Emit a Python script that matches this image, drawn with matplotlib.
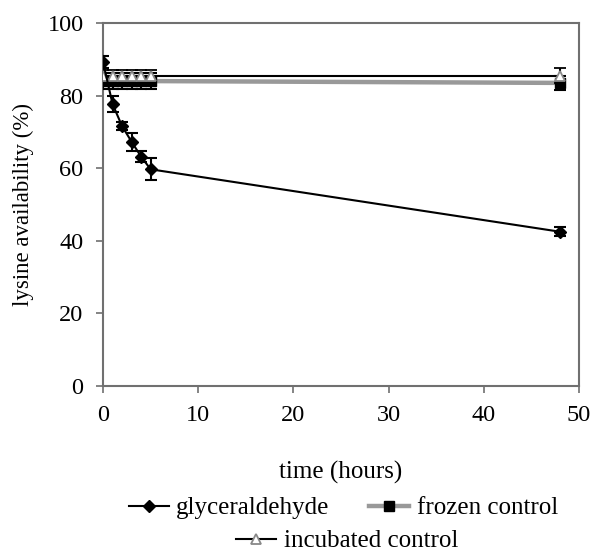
import matplotlib
matplotlib.use("Agg")
import matplotlib.pyplot as plt
from matplotlib.lines import Line2D

plt.rcParams['font.family'] = ['Liberation Serif', 'DejaVu Serif']

time_h = [0, 1, 2, 3, 4, 5, 48]
glyc = [89.3, 77.7, 71.6, 67.3, 63.2, 59.7, 42.5]
glyc_err = [1.7, 2.3, 1.0, 2.5, 1.5, 3.0, 1.2]
frozen = [84.0, 84.0, 84.0, 84.0, 84.0, 84.0, 83.5]
frozen_err = [2.3, 2.3, 2.3, 2.3, 2.3, 2.3, 2.0]
incub = [85.5, 85.5, 85.5, 85.5, 85.5, 85.5, 85.5]
incub_err = [1.5, 1.5, 1.5, 1.5, 1.5, 1.5, 2.0]

x_ticks = [0, 10, 20, 30, 40, 50]
y_ticks = [0, 20, 40, 60, 80, 100]
labels = ['glyceraldehyde', 'frozen control', 'incubated control']

fig = plt.figure(figsize=(5.95, 5.52), dpi=100)
ax = fig.add_axes([103/595, 1-386/552, (579-103)/595, (386-23)/552])

spine_c = '#707070'
ax.errorbar(time_h, frozen, yerr=frozen_err, color='#999999', lw=3.2,
            marker='s', ms=6.5, mfc='black', mec='black', ecolor='black',
            elinewidth=1.5, capsize=4, capthick=1.5, zorder=3)
ax.errorbar(time_h, incub, yerr=incub_err, color='black', lw=1.5,
            marker='^', ms=7, mfc='white', mec='#888888', mew=1.3, ecolor='black',
            elinewidth=1.5, capsize=4, capthick=1.5, zorder=4)
ax.errorbar(time_h, glyc, yerr=glyc_err, color='black', lw=1.5,
            marker='D', ms=6.5, mfc='black', mec='black', ecolor='black',
            elinewidth=1.5, capsize=4, capthick=1.5, zorder=5)

ax.set_xlim(0, 50)
ax.set_ylim(0, 100)
ax.set_xticks(x_ticks)
ax.set_yticks(y_ticks)
ax.tick_params(direction='out', length=5, width=1.2, color=spine_c,
               labelsize=17.5, pad=9)
for s in ax.spines.values():
    s.set_color(spine_c)
    s.set_linewidth(1.5)

ax.set_xlabel('time (hours)', fontsize=18, labelpad=25)
ax.set_ylabel('lysine availability (%)', fontsize=16.5, labelpad=10)

h1 = Line2D([], [], color='black', lw=1.5, marker='D', ms=6.5, mfc='black', mec='black')
h2 = Line2D([], [], color='#999999', lw=3.2, marker='s', ms=6.5, mfc='black', mec='black')
h3 = Line2D([], [], color='black', lw=1.5, marker='^', ms=7, mfc='white', mec='#888888', mew=1.3)

cx = (103 + 579) / 2 / 595
leg1 = fig.legend([h1, h2], labels[:2], loc='center', bbox_to_anchor=(cx + 0.004, 1 - 508/552),
                  ncol=2, frameon=False, fontsize=18, handlelength=1.6,
                  handletextpad=0.3, columnspacing=1.6, borderpad=0)
leg2 = fig.legend([h3], labels[2:], loc='center', bbox_to_anchor=(cx + 0.01, 1 - 541/552),
                  frameon=False, fontsize=18, handlelength=1.6,
                  handletextpad=0.3, borderpad=0)

fig.savefig('out.png', dpi=100)
